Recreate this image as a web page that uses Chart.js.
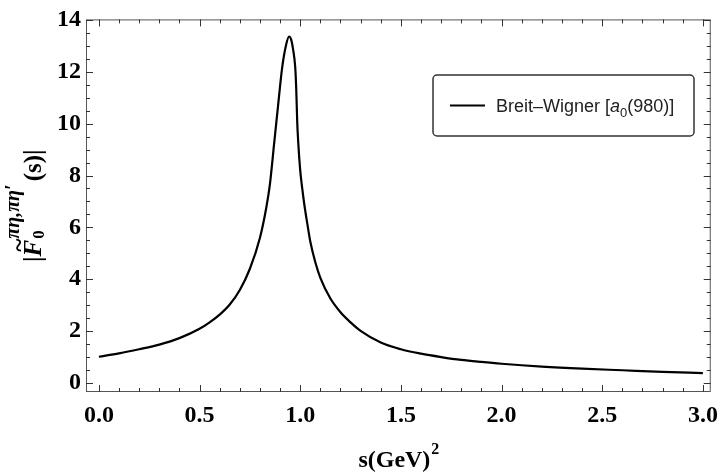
<!DOCTYPE html>
<html>
<head>
<meta charset="utf-8">
<script src="https://cdn.jsdelivr.net/npm/chart.js@4.4.0/dist/chart.umd.min.js"></script>
<style>
  html, body { margin: 0; padding: 0; background: #fff; }
  #wrap { width: 727px; height: 474px; }
</style>
</head>
<body>
<div id="wrap"><canvas id="chart"></canvas></div>
<script>
// s in GeV^2
const sValues = [0, 0.1, 0.2, 0.3, 0.4, 0.5, 0.55, 0.6, 0.65, 0.7, 0.75, 0.8, 0.83, 0.85, 0.87, 0.89, 0.91, 0.93,
  0.945, 0.955, 0.965, 0.975, 0.98, 0.985, 0.99, 1.0, 1.01, 1.02, 1.035, 1.05, 1.075, 1.1, 1.15, 1.2, 1.25, 1.3,
  1.4, 1.5, 1.6, 1.7, 1.8, 1.9, 2.0, 2.2, 2.4, 2.6, 2.8, 3.0];
// |F0| Breit-Wigner a0(980)
const bwValues = [1.00, 1.13, 1.29, 1.47, 1.72, 2.08, 2.33, 2.63, 3.02, 3.58, 4.40, 5.60, 6.70, 7.70, 9.20, 10.70, 12.15, 13.05,
  13.37, 13.25, 12.85, 12.2, 11.4, 10.1, 9.3, 8.2, 7.5, 6.9, 6.15, 5.45, 4.65, 4.05, 3.25, 2.72, 2.33, 2.0,
  1.55, 1.29, 1.12, 0.99, 0.88, 0.80, 0.73, 0.62, 0.54, 0.48, 0.42, 0.37];

const xTicks = [0, 0.5, 1.0, 1.5, 2.0, 2.5, 3.0];
const yTicks = [0, 2, 4, 6, 8, 10, 12, 14];
const seriesLabel = 'Breit–Wigner';

const SERIF = '"Liberation Serif", "Times New Roman", serif';
const SANS = '"Liberation Sans", Arial, sans-serif';

// frame + inward ticks on all four sides, Mathematica style
const framePlugin = {
  id: 'frame',
  afterDatasetsDraw(chart) {
    const { ctx, chartArea: a, scales } = chart;
    const xs = scales.x, ys = scales.y;
    ctx.save();
    ctx.strokeStyle = '#555';
    ctx.lineWidth = 1;
    ctx.strokeRect(a.left + 0.5, a.top + 0.5, a.right - a.left - 1, a.bottom - a.top - 1);
    ctx.strokeStyle = '#333';
    ctx.beginPath();
    for (let i = 0; i <= 30; i++) {
      const v = i / 10;
      const px = Math.round(xs.getPixelForValue(v)) + 0.5;
      const len = i % 5 === 0 ? 7 : 4;
      ctx.moveTo(px, a.bottom); ctx.lineTo(px, a.bottom - len);
      ctx.moveTo(px, a.top); ctx.lineTo(px, a.top + len);
    }
    for (let i = 0; i <= 28; i++) {
      const v = i / 2;
      const py = Math.round(ys.getPixelForValue(v)) + 0.5;
      const len = i % 4 === 0 ? 7 : 4;
      ctx.moveTo(a.left, py); ctx.lineTo(a.left + len, py);
      ctx.moveTo(a.right, py); ctx.lineTo(a.right - len, py);
    }
    ctx.stroke();
    ctx.restore();
  },
  afterDraw(chart) {
    const { ctx, chartArea: a } = chart;
    ctx.save();
    ctx.fillStyle = '#000';

    // x axis title: s(GeV)^2
    ctx.textBaseline = 'alphabetic';
    const base = 's(GeV)';
    ctx.font = 'bold 24px ' + SERIF;
    const w1 = ctx.measureText(base).width;
    ctx.font = 'bold 16px ' + SERIF;
    const w2 = ctx.measureText('2').width;
    const cx = (a.left + a.right) / 2;
    const x0 = cx - (w1 + w2) / 2;
    ctx.font = 'bold 24px ' + SERIF;
    ctx.fillText(base, x0, 467);
    ctx.font = 'bold 16px ' + SERIF;
    ctx.fillText('2', x0 + w1 + 1, 454);

    // y axis title: |F~0^{πη,πη'}(s)|
    ctx.translate(41, (a.top + a.bottom) / 2);
    ctx.rotate(-Math.PI / 2);
    const mainF = 'bold 25px ' + SERIF;
    const fF = 'italic bold 25px ' + SERIF;
    const subF = 'bold 17px ' + SERIF;
    const supF = 'italic bold 20px ' + SERIF;
    const sup = 'πη,πη′';
    ctx.font = mainF;
    const wBar = ctx.measureText('|').width;
    const wTail = ctx.measureText('(s)|').width;
    ctx.font = fF;
    const wF = ctx.measureText('F').width;
    ctx.font = subF;
    const wSub = ctx.measureText('0').width;
    ctx.font = supF;
    const wSup = ctx.measureText(sup).width;
    const total = wBar + wF + 1 + Math.max(wSub, wSup) + 3 + wTail;
    let x = -total / 2;
    ctx.font = mainF; ctx.fillText('|', x, 0);
    x += wBar;
    ctx.font = fF; ctx.fillText('F', x, 0);
    ctx.fillText('~', x + 4, -14);
    x += wF + 1;
    ctx.font = subF; ctx.fillText('0', x, 3);
    ctx.font = supF; ctx.fillText(sup, x, -22);
    x += Math.max(wSub, wSup) + 3;
    ctx.font = mainF; ctx.fillText('(s)|', x, 0);
    ctx.restore();

    // legend box
    ctx.save();
    const bx = 433, by = 75, bw = 261, bh = 61;
    ctx.strokeStyle = '#333';
    ctx.lineWidth = 1.5;
    ctx.beginPath();
    ctx.roundRect(bx, by, bw, bh, 4);
    ctx.stroke();
    ctx.strokeStyle = '#000';
    ctx.lineWidth = 2.2;
    ctx.beginPath();
    ctx.moveTo(450, 105.5); ctx.lineTo(485, 105.5);
    ctx.stroke();
    ctx.fillStyle = '#222';
    ctx.textBaseline = 'alphabetic';
    let lx = 496;
    const ly = 112;
    ctx.font = '18px ' + SANS;
    const t1 = seriesLabel + ' [';
    ctx.fillText(t1, lx, ly); lx += ctx.measureText(t1).width;
    ctx.font = 'italic 18px ' + SANS;
    ctx.fillText('a', lx, ly); lx += ctx.measureText('a').width;
    ctx.font = '13px ' + SANS;
    ctx.fillText('0', lx, ly + 5); lx += ctx.measureText('0').width;
    ctx.font = '18px ' + SANS;
    ctx.fillText('(980)]', lx, ly);
    ctx.restore();
  }
};

const ctx = document.getElementById('chart').getContext('2d');
new Chart(ctx, {
  type: 'line',
  data: {
    datasets: [{
      label: seriesLabel,
      data: sValues.map((s, i) => ({ x: s, y: bwValues[i] })),
      borderColor: '#000',
      borderWidth: 2.2,
      pointRadius: 0,
      fill: false,
      cubicInterpolationMode: 'monotone'
    }]
  },
  options: {
    responsive: true,
    maintainAspectRatio: false,
    animation: false,
    layout: { padding: { left: 0, right: 9, top: 12, bottom: 0 } },
    plugins: {
      legend: { display: false },
      tooltip: { enabled: false }
    },
    scales: {
      x: {
        type: 'linear',
        min: -0.064,
        max: 3.039,
        grid: { display: false, drawTicks: false },
        border: { display: false },
        afterBuildTicks: s => { s.ticks = xTicks.map(v => ({ value: v })); },
        afterFit: s => { s.height = 82; },
        ticks: {
          color: '#000',
          padding: 9,
          maxRotation: 0,
          font: { family: SERIF, weight: 'bold', size: 24 },
          callback: v => v.toFixed(1)
        }
      },
      y: {
        type: 'linear',
        min: -0.36,
        max: 14.03,
        grid: { display: false, drawTicks: false },
        border: { display: false },
        afterBuildTicks: s => { s.ticks = yTicks.map(v => ({ value: v })); },
        afterFit: s => { s.width = 86; },
        ticks: {
          color: '#000',
          padding: 5,
          font: { family: SERIF, weight: 'bold', size: 24 },
          callback: v => String(v)
        }
      }
    }
  },
  plugins: [framePlugin]
});
</script>
</body>
</html>
